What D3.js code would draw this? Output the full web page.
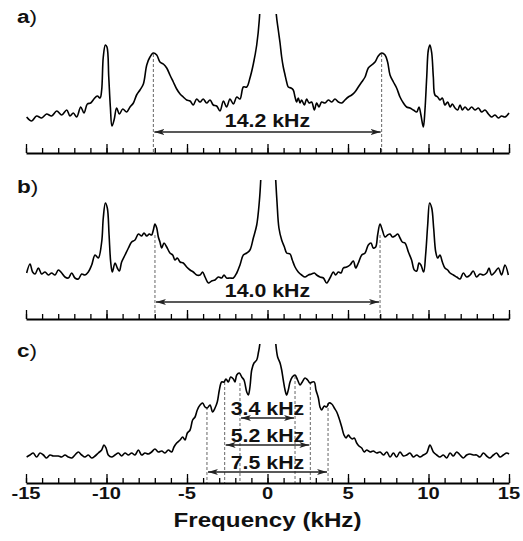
<!DOCTYPE html>
<html>
<head>
<meta charset="utf-8">
<script src="https://cdn.jsdelivr.net/npm/d3@7"></script>
<style>
    body { margin: 0; background: #fff; }
    text { font-family: "Liberation Sans", Arial, sans-serif; fill: #111; }
</style>
</head>
<body>
<div id="chart-area"></div>
<script>
/*
*   three stacked spectra (a, b, c) on a shared frequency axis
*/

// panel a spectrum (kHz, arbitrary intensity)
let freqA = [-14.96,-14.65,-14.34,-14.03,-13.72,-13.41,-13.09,-12.78,-12.47,-12.27,-12.06,-11.85,-11.6,-11.4,-11.19,-10.98,-10.78,-10.57,-10.4,-10.3,
    -10.2,-10.07,-9.97,-9.86,-9.76,-9.66,-9.53,-9.37,-9.2,-8.99,-8.75,-8.54,-8.33,-8.13,-7.92,-7.71,-7.5,-7.3,-7.09,-6.88,
    -6.68,-6.47,-6.26,-6.06,-5.85,-5.64,-5.43,-5.23,-5.02,-4.81,-4.61,-4.4,-4.19,-3.99,-3.78,-3.57,-3.37,-3.16,-2.95,-2.74,
    -2.54,-2.33,-2.12,-1.91,-1.71,-1.5,-1.29,-1.09,-0.88,-0.67,-0.51,-0.3,0,0.3,
    0.55,0.67,0.78,0.88,0.98,1.09,1.19,1.29,1.46,1.6,1.71,1.81,1.91,2.02,2.12,2.29,2.43,2.58,2.74,2.91,
    3.05,3.2,3.36,3.57,3.78,3.99,4.19,4.4,4.61,4.81,5.02,5.23,5.43,5.64,5.85,6.06,6.26,6.47,6.68,6.88,
    7.09,7.3,7.46,7.61,7.82,8.02,8.23,8.44,8.64,8.85,9.06,9.27,9.41,9.53,9.68,9.78,9.89,9.99,10.09,10.2,
    10.3,10.4,10.57,10.71,10.86,11.02,11.19,11.34,11.48,11.65,11.81,11.96,12.1,12.27,12.47,12.68,12.89,13.1,13.3,13.51,
    13.72,13.92,14.13,14.34,14.54,14.75,15];
let intA = [36,32,37,35,39,37,42,38,43,37,40,36,46,40,49,50,54,57,55,63,
    96,108,106,76,46,27,33,45,39,44,41,46,50,58,63,69,88,96,100,98,
    91,89,85,78,71,64,59,56,53,52,48,54,51,54,50,53,48,47,42,52,
    46,54,49,56,54,66,66,75,89,108,133,210,400,210,
    138,123,110,96,86,78,71,66,65,63,56,51,55,50,53,48,54,50,51,43,
    50,46,51,50,53,51,54,51,50,53,56,58,61,66,71,76,85,88,91,97,
    100,98,91,78,71,65,56,50,46,45,43,41,46,38,26,43,76,103,108,100,
    76,58,56,53,55,48,51,46,49,45,43,48,43,46,43,46,43,45,41,43,
    39,36,38,35,37,36,40];

// panel b spectrum
let freqB = [-14.96,-14.75,-14.59,-14.44,-14.23,-14.03,-13.82,-13.61,-13.41,-13.2,-12.99,-12.78,-12.58,-12.37,-12.16,-11.96,-11.75,-11.54,-11.34,-11.13,
    -10.92,-10.71,-10.51,-10.3,-10.2,-10.07,-9.95,-9.84,-9.74,-9.64,-9.47,-9.33,-9.2,-9.06,-8.85,-8.64,-8.44,-8.23,-8.02,-7.82,
    -7.67,-7.5,-7.34,-7.2,-7.09,-6.99,-6.88,-6.78,-6.68,-6.57,-6.43,-6.26,-6.06,-5.89,-5.75,-5.6,-5.43,-5.23,-5.02,-4.81,
    -4.61,-4.4,-4.19,-4.03,-3.88,-3.67,-3.47,-3.26,-3.05,-2.85,-2.7,-2.54,-2.33,-2.12,-1.91,-1.71,-1.5,-1.29,-1.09,-0.88,
    -0.67,-0.51,-0.42,-0.25,0,0.25,
    0.51,0.59,0.71,0.88,1.05,1.19,1.4,1.54,1.71,1.91,2.12,2.33,2.54,2.74,2.91,3.05,3.26,3.47,3.67,3.88,
    4.09,4.23,4.4,4.57,4.71,4.92,5.12,5.33,5.48,5.64,5.85,6.06,6.26,6.43,6.57,6.72,6.84,6.99,7.13,7.3,
    7.46,7.61,7.75,7.92,8.09,8.23,8.37,8.54,8.75,8.95,9.12,9.27,9.41,9.53,9.7,9.82,9.95,10.07,10.2,10.32,
    10.45,10.57,10.71,10.86,11.02,11.19,11.34,11.54,11.75,11.96,12.16,12.37,12.58,12.78,12.99,13.2,13.41,13.61,13.76,13.92,
    14.13,14.34,14.54,14.75,14.96];
let intB = [46,55,47,45,51,45,47,44,46,44,49,46,42,41,46,41,40,45,44,47,
    54,64,61,77,101,116,111,84,57,47,56,51,48,57,64,71,77,79,85,83,
    86,83,85,84,89,95,91,82,77,71,76,72,66,64,59,61,57,56,52,49,
    47,44,44,47,42,36,38,39,42,41,44,41,41,41,46,54,64,66,69,81,
    94,117,139,220,400,220,
    139,117,91,79,72,66,65,59,52,47,44,42,44,45,46,44,42,41,36,41,
    47,44,47,46,51,52,54,58,51,56,64,66,74,76,71,72,84,95,89,82,
    84,85,82,83,85,81,77,76,67,59,49,48,56,54,47,64,94,116,111,91,
    67,61,64,57,51,49,46,44,42,40,46,42,44,48,42,45,44,46,51,44,
    47,51,44,54,44];

// panel c spectrum
let freqC = [-14.96,-14.75,-14.55,-14.34,-14.13,-13.92,-13.72,-13.51,-13.3,-12.99,-12.78,-12.58,-12.37,-12.16,-11.96,-11.75,-11.54,-11.34,-11.13,-10.92,
    -10.71,-10.51,-10.3,-10.16,-10.03,-9.89,-9.68,-9.47,-9.26,-9.06,-8.85,-8.64,-8.44,-8.23,-8.02,-7.82,-7.61,-7.41,-7.2,-6.99,
    -6.78,-6.57,-6.37,-6.16,-5.95,-5.81,-5.64,-5.43,-5.27,-5.12,-4.98,-4.81,-4.65,-4.5,-4.36,-4.19,-4.03,-3.88,-3.74,-3.57,
    -3.41,-3.26,-3.12,-2.99,-2.85,-2.7,-2.58,-2.43,-2.29,-2.12,-2.02,-1.91,-1.75,-1.6,-1.46,-1.29,-1.19,-1.09,-0.98,-0.84,
    -0.67,-0.57,-0.47,-0.25,0,0.25,
    0.51,0.63,0.78,0.88,0.98,1.09,1.19,1.29,1.4,1.54,1.71,1.87,2.02,2.16,2.33,2.49,2.64,2.78,2.91,3.01,
    3.16,3.26,3.36,3.53,3.67,3.82,3.99,4.15,4.3,4.44,4.61,4.75,4.88,5.02,5.12,5.27,5.39,5.54,5.68,5.85,
    6.01,6.16,6.37,6.57,6.78,6.99,7.2,7.41,7.61,7.82,8.02,8.23,8.44,8.64,8.85,9.06,9.27,9.47,9.68,9.89,
    10.09,10.3,10.51,10.71,10.92,11.13,11.34,11.54,11.75,11.96,12.16,12.37,12.58,12.78,12.99,13.2,13.41,13.61,13.82,14.03,
    14.23,14.44,14.65,14.86,15];
let intC = [26,28,30,26,30,28,25,28,27,27,26,28,26,25,28,31,28,26,28,25,
    27,30,33,38,35,28,26,28,30,27,30,28,30,28,33,28,30,29,31,34,
    31,32,30,33,31,36,40,43,46,43,50,53,63,66,73,78,80,76,75,78,
    71,75,81,93,101,101,104,101,106,104,101,108,110,106,103,91,88,96,113,120,
    123,130,140,220,400,220,
    140,126,120,113,103,93,88,93,101,106,108,103,98,101,105,103,100,101,101,93,
    85,76,73,77,76,80,79,75,71,65,56,48,45,48,46,44,45,40,37,35,
    31,33,31,32,30,31,28,31,26,30,26,31,27,28,30,26,28,26,28,30,
    38,31,28,26,28,25,30,27,31,28,25,28,29,28,28,26,30,27,25,28,
    30,26,28,30,29];

// axis tick labels
let tickLabels = [-15, -10, -5, 0, 5, 10, 15];

// splitting annotations: half-splitting positions, labels, dashed line tops, arrow / label heights
let splitA = [7.09], splitLabelA = ["14.2 kHz"], dashTopA = [[99, 99]], arrowIntA = [21], labelIntA = [26];
let splitB = [6.99], splitLabelB = ["14.0 kHz"], dashTopB = [[84, 84]], arrowIntB = [17], labelIntB = [22];
let splitC = [1.71, 2.66, 3.76], splitLabelC = ["3.4 kHz", "5.2 kHz", "7.5 kHz"],
    dashTopC = [[100, 107], [101, 101], [76, 80]], arrowIntC = [65, 38, 11], labelIntC = [68, 41, 14];

let width = 523, height = 541;

let svg = d3.select("#chart-area")
            .append("svg")
            .attr("width", width)
            .attr("height", height);

let x = d3.scaleLinear()
            .domain([-15, 15])
            .range([26, 509]);

// text in the figure is horizontally stretched
let stretch = 1.22;

let defs = svg.append("defs");
defs.append("marker")
    .attr("id", "arrow")
    .attr("viewBox", "0 0 10 6")
    .attr("refX", 10)
    .attr("refY", 3)
    .attr("markerWidth", 10)
    .attr("markerHeight", 6)
    .attr("markerUnits", "userSpaceOnUse")
    .attr("orient", "auto-start-reverse")
    .append("path")
        .attr("d", "M0,0L10,3L0,6L2.5,3Z")
        .attr("fill", "#222");

let panels = [
    {key: "a", freq: freqA, amp: intA, axisY: 153, labelY: 23, split: splitA, splitLabel: splitLabelA, dashTop: dashTopA, arrowInt: arrowIntA, labelInt: labelIntA},
    {key: "b", freq: freqB, amp: intB, axisY: 319, labelY: 193, split: splitB, splitLabel: splitLabelB, dashTop: dashTopB, arrowInt: arrowIntB, labelInt: labelIntB},
    {key: "c", freq: freqC, amp: intC, axisY: 483, labelY: 357, split: splitC, splitLabel: splitLabelC, dashTop: dashTopC, arrowInt: arrowIntC, labelInt: labelIntC}
];

panels.forEach(function(p, i){
    let y = d3.scaleLinear()
                .domain([0, 140])
                .range([p.axisY, p.axisY - 140]);

    let g = svg.append("g").attr("class", "panel-" + p.key);

    // clip so the centre line runs off the top of each panel
    defs.append("clipPath")
        .attr("id", "clip-" + p.key)
        .append("rect")
            .attr("x", 0)
            .attr("y", y(139))
            .attr("width", width)
            .attr("height", y(0) - y(139));

    // dashed guides
    p.split.forEach(function(s, j){
        [-s, s].forEach(function(f, k){
            g.append("line")
                .attr("x1", x(f)).attr("x2", x(f))
                .attr("y1", y(p.dashTop[j][k])).attr("y2", y(0))
                .attr("stroke", "#666")
                .attr("stroke-width", 1)
                .attr("stroke-dasharray", "3,2");
        });
    });

    // spectrum
    let line = d3.line()
                .x(function(d){ return x(d[0]); })
                .y(function(d){ return y(d[1]); })
                .curve(d3.curveCatmullRom.alpha(0.5));

    g.append("path")
        .datum(d3.zip(p.freq, p.amp))
        .attr("clip-path", "url(#clip-" + p.key + ")")
        .attr("d", line)
        .attr("fill", "none")
        .attr("stroke", "#000")
        .attr("stroke-width", 1.6)
        .attr("stroke-linejoin", "round");

    // splitting arrows and labels
    p.split.forEach(function(s, j){
        g.append("line")
            .attr("x1", x(-s) + 1).attr("x2", x(s) - 1)
            .attr("y1", y(p.arrowInt[j])).attr("y2", y(p.arrowInt[j]))
            .attr("stroke", "#222")
            .attr("stroke-width", 1.4)
            .attr("marker-start", "url(#arrow)")
            .attr("marker-end", "url(#arrow)");

        g.append("text")
            .attr("transform", "translate(" + x(0) + "," + y(p.labelInt[j]) + ") scale(" + stretch + ",1)")
            .attr("text-anchor", "middle")
            .attr("font-size", "17.5px")
            .attr("font-weight", "bold")
            .text(p.splitLabel[j]);
    });

    // axis: minor ticks every 1 kHz, major every 5
    g.append("g")
        .attr("class", "x axis")
        .attr("transform", "translate(0," + p.axisY + ")")
        .call(d3.axisTop(x).tickValues(d3.range(-15, 16, 1)).tickSize(5).tickSizeOuter(0).tickFormat(""))
        .call(function(a){
            a.select(".domain").attr("stroke", "#000").attr("stroke-width", 2);
            a.selectAll(".tick line").attr("stroke", "#000").attr("stroke-width", 1.3);
        });

    g.append("g")
        .attr("transform", "translate(0," + p.axisY + ")")
        .call(d3.axisTop(x).tickValues(tickLabels).tickSize(9).tickFormat(""))
        .call(function(a){
            a.select(".domain").remove();
            a.selectAll(".tick line").attr("stroke", "#000").attr("stroke-width", 1.3);
        });

    // panel label
    let lab = g.append("text")
        .attr("transform", "translate(17," + p.labelY + ") scale(" + stretch + ",1)")
        .attr("font-size", "18.5px");
    lab.append("tspan").attr("font-weight", "bold").text(p.key);
    lab.append("tspan").text(")");

    // tick labels only under the last panel
    if (i == panels.length - 1) {
        g.selectAll(".tick-label")
            .data(tickLabels)
            .enter()
            .append("text")
            .attr("class", "tick-label")
            .attr("transform", function(d){
                return "translate(" + x(d) + "," + (p.axisY + 16) + ") scale(" + stretch + ",1)";
            })
            .attr("text-anchor", "middle")
            .attr("font-size", "16.5px")
            .attr("font-weight", "bold")
            .text(function(d){ return d; });
    }
});

// x label
svg.append("text")
    .attr("class", "x axis-label")
    .attr("transform", "translate(" + x(0) + ",527) scale(1.24,1)")
    .attr("text-anchor", "middle")
    .attr("font-size", "19.5px")
    .attr("font-weight", "bold")
    .text("Frequency (kHz)");
</script>
</body>
</html>
